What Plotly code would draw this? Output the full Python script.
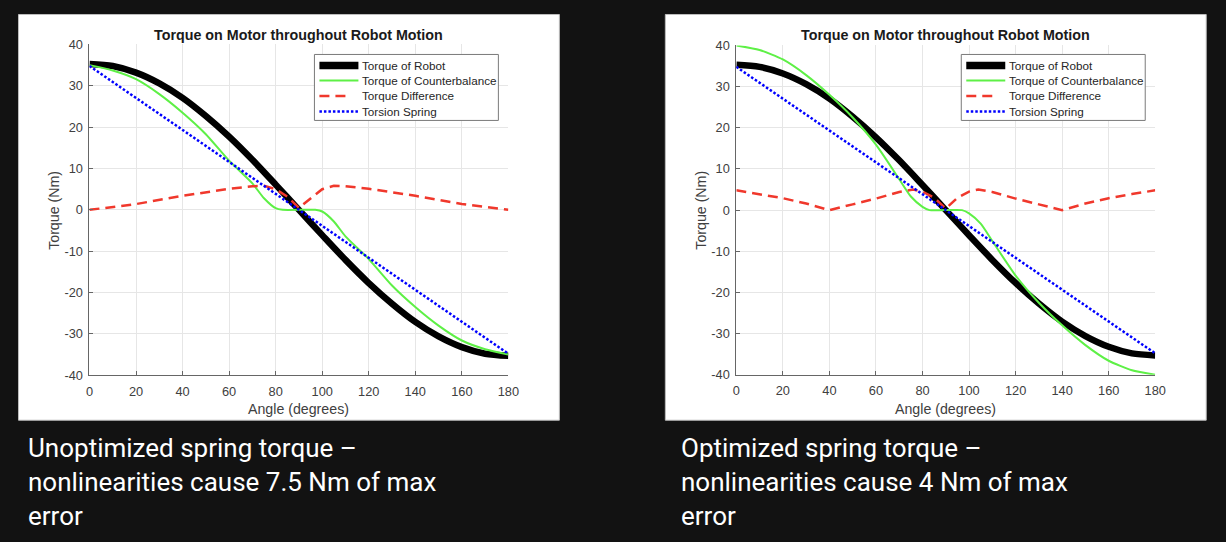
import plotly.graph_objects as go

W, H = 1226, 542

# ---- data ----
robot_angle = [0, 10, 20, 30, 40, 50, 60, 70, 80, 90, 100, 110, 120, 130, 140, 150, 160, 170, 180]
robot_torque = [35.3, 34.8, 33.2, 30.6, 27.1, 22.7, 17.7, 12.1, 6.1, 0.0,
                -6.1, -12.1, -17.7, -22.7, -27.1, -30.6, -33.2, -34.8, -35.3]

spring_angle = [0, 180]
spring_torque = [34.8, -34.8]

cb_angle = [0, 10, 20, 30, 40, 50, 60, 70, 75, 80, 83, 97, 100, 105, 110, 120, 130, 140, 150, 160, 170, 180]
cb_torque_unopt = [35.0, 33.7, 31.6, 28.0, 23.5, 18.3, 11.9, 6.4, 2.8, 0.4, 0.0,
                   0.0, -0.4, -2.8, -6.4, -11.9, -18.3, -23.5, -28.0, -31.6, -33.7, -35.0]
cb_torque_opt = [40.0, 38.9, 36.6, 32.8, 28.0, 22.5, 15.9, 7.5, 3.3, 0.8, 0.0,
                 0.0, -0.8, -3.3, -7.5, -15.9, -22.5, -28.0, -32.8, -36.6, -38.9, -40.0]

diff_angle_unopt = [0, 20, 40, 60, 70, 75, 80, 85, 90, 95, 100, 105, 110, 120, 140, 160, 180]
diff_torque_unopt = [0.0, 1.4, 3.4, 5.1, 5.7, 5.8, 5.0, 3.2, 0.5, 2.8, 5.0, 5.8, 5.7, 5.1, 3.4, 1.4, 0.0]

diff_angle_opt = [0, 10, 20, 30, 40, 50, 60, 70, 76, 80, 85, 90, 95, 100, 104, 110, 120, 130, 140, 150, 160, 170, 180]
diff_torque_opt = [4.8, 3.9, 2.9, 1.6, 0.0, 1.4, 2.8, 4.4, 5.0, 4.5, 3.0, 0.4,
                   3.0, 4.5, 5.0, 4.4, 2.8, 1.4, 0.0, 1.6, 2.9, 3.9, 4.8]

x_ticks = [0, 20, 40, 60, 80, 100, 120, 140, 160, 180]
y_ticks = [-40, -30, -20, -10, 0, 10, 20, 30, 40]
y_tick_labels = ["-40", "-30", "-20", "-10", "0", "10", "20", "30", "40"]

series_names = ["Torque of Robot", "Torque of Counterbalance", "Torque Difference", "Torsion Spring"]
plot_title = "Torque on Motor throughout Robot Motion"
x_label = "Angle (degrees)"
y_label = "Torque (Nm)"
captions = [
    ["Unoptimized spring torque \u2013", "nonlinearities cause 7.5 Nm of max", "error"],
    ["Optimized spring torque \u2013", "nonlinearities cause 4 Nm of max", "error"],
]

# ---- styles ----
BG = "#121212"
AX_FONT = "Liberation Sans, Arial, sans-serif"
CAP_FONT = "Roboto, Liberation Sans, sans-serif"
c_robot, c_cb, c_diff, c_spring = "#000000", "#5ef046", "#f0382c", "#0000ff"
styles = [
    dict(color=c_robot, width=6.5),
    dict(color=c_cb, width=2),
    dict(color=c_diff, width=2.5, dash="10px,6px"),
    dict(color=c_spring, width=2.5, dash="2.5px,2px"),
]

# the screenshot comes out slightly scaled/offset, so positions measured on the
# reference picture are mapped back to page pixels before turning into paper coords
SX, OX = 0.988, 2.5
SY, OY = 0.973, 6.5


def px(xp):
    return (xp - OX) / SX / W


def py(yp):
    return 1 - (yp - OY) / SY / H


panels = [
    dict(suffix="", dx=0, cap_x=25, cb=cb_torque_unopt, da=diff_angle_unopt, dt=diff_torque_unopt),
    dict(suffix="2", dx=647, cap_x=677.5, cb=cb_torque_opt, da=diff_angle_opt, dt=diff_torque_opt),
]

fig = go.Figure()
shapes = []
annotations = []

for i, p in enumerate(panels):
    xa, ya = "x" + p["suffix"], "y" + p["suffix"]
    dx = p["dx"]

    fig.add_trace(go.Scatter(x=robot_angle, y=robot_torque, mode="lines", name=series_names[0],
                             line=dict(**styles[0], shape="spline", smoothing=0.8),
                             xaxis=xa, yaxis=ya, showlegend=False))
    fig.add_trace(go.Scatter(x=cb_angle, y=p["cb"], mode="lines", name=series_names[1],
                             line=dict(**styles[1], shape="spline", smoothing=0.6),
                             xaxis=xa, yaxis=ya, showlegend=False))
    fig.add_trace(go.Scatter(x=p["da"], y=p["dt"], mode="lines", name=series_names[2],
                             line=styles[2], xaxis=xa, yaxis=ya, showlegend=False))
    fig.add_trace(go.Scatter(x=spring_angle, y=spring_torque, mode="lines", name=series_names[3],
                             line=styles[3], xaxis=xa, yaxis=ya, showlegend=False))

    # white figure panel
    shapes.append(dict(type="rect", xref="paper", yref="paper", layer="below",
                       x0=px(17 + dx), x1=px(558 + dx), y0=py(419), y1=py(13),
                       fillcolor="white", line=dict(color="#bdbdbd", width=1)))

    # legend box (drawn by hand to get MATLAB's tight row spacing)
    shapes.append(dict(type="rect", xref="paper", yref="paper",
                       x0=px(313 + dx), x1=px(497 + dx), y0=py(119), y1=py(53),
                       fillcolor="white", line=dict(color="#7a7a7a", width=1)))
    for k, (name, yy) in enumerate(zip(series_names, [64, 79, 94.5, 110])):
        st = styles[k]
        x_end = 347 if k == 2 else 357
        shapes.append(dict(type="line", xref="paper", yref="paper",
                           x0=px(318 + dx), x1=px(x_end + dx), y0=py(yy), y1=py(yy),
                           line=dict(color=st["color"], width=st["width"] + (1 if k == 0 else 0),
                                     dash=st.get("dash", "solid"))))
        annotations.append(dict(text=name, xref="paper", yref="paper", x=px(359 + dx), y=py(yy),
                                xanchor="left", yanchor="middle", showarrow=False,
                                font=dict(family=AX_FONT, size=11.7, color="#262626")))

    # title and axis labels
    annotations.append(dict(text="<b>" + plot_title + "</b>", xref="paper", yref="paper",
                            x=px(297.5 + dx), y=py(34), xanchor="center", yanchor="middle",
                            showarrow=False, font=dict(family=AX_FONT, size=14.3, color="#1a1a1a")))
    annotations.append(dict(text=x_label, xref="paper", yref="paper", x=px(297.5 + dx), y=py(408),
                            xanchor="center", yanchor="middle", showarrow=False,
                            font=dict(family=AX_FONT, size=14.2, color="#404040")))
    annotations.append(dict(text=y_label, xref="paper", yref="paper", x=px(53 + dx), y=py(209),
                            xanchor="center", yanchor="middle", textangle=-90, showarrow=False,
                            font=dict(family=AX_FONT, size=14.2, color="#404040")))

    # captions under each panel
    for j, line in enumerate(captions[i]):
        annotations.append(dict(text=line, xref="paper", yref="paper", x=px(p["cap_x"]),
                                y=py(447 + 34 * j), xanchor="left", yanchor="middle",
                                showarrow=False, font=dict(family=CAP_FONT, size=26, color="white")))

axis_common = dict(showgrid=True, gridcolor="#e6e6e6", gridwidth=1, zeroline=False,
                   showline=True, linecolor="#666666", linewidth=1, mirror=False,
                   ticks="inside", ticklen=4, tickcolor="#666666",
                   tickfont=dict(family=AX_FONT, size=12.8, color="#404040"))
x_common = dict(range=[0, 180], tickvals=x_ticks, ticklabelstandoff=4, **axis_common)
y_common = dict(range=[-40, 40], tickvals=y_ticks, ticktext=y_tick_labels,
                ticklabelstandoff=3, **axis_common)

fig.update_layout(
    width=W, height=H,
    margin=dict(l=0, r=0, t=0, b=0),
    paper_bgcolor=BG, plot_bgcolor="white",
    showlegend=False,
    xaxis=dict(domain=[px(88), px(507)], anchor="y", **x_common),
    yaxis=dict(domain=[py(374), py(43)], anchor="x", **y_common),
    xaxis2=dict(domain=[px(735), px(1154)], anchor="y2", **x_common),
    yaxis2=dict(domain=[py(373.5), py(44)], anchor="x2", **y_common),
    shapes=shapes,
    annotations=annotations,
)

# drop the default body margin so the 1226x542 figure fills the window exactly
fig.write_html("out.html", config={"displayModeBar": False},
               post_script="document.body.style.margin='0';document.body.style.background='%s';" % BG)
